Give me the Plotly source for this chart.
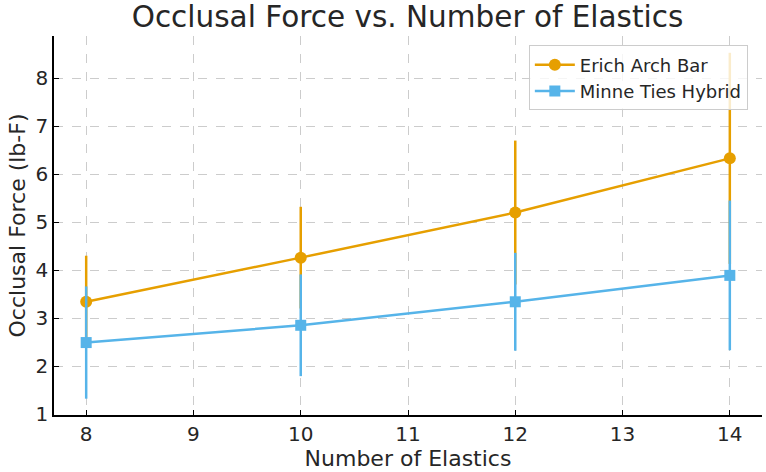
import plotly.graph_objects as go

elastics = [8, 10, 12, 14]
erich_mean = [3.34, 4.26, 5.2, 6.33]
erich_err = [0.96, 1.06, 1.5, 2.2]
minne_mean = [2.49, 2.85, 3.34, 3.89]
minne_err = [1.17, 1.06, 1.02, 1.56]

x_ticks = [8, 9, 10, 11, 12, 13, 14]
y_ticks = [1, 2, 3, 4, 5, 6, 7, 8]

ORANGE = "#E69F00"
BLUE = "#56B4E9"
FONT = "DejaVu Sans"
TXT = "#262626"

fig = go.Figure()
fig.add_trace(go.Scatter(
    x=elastics, y=erich_mean, name="Erich Arch Bar",
    mode="lines+markers",
    line=dict(color=ORANGE, width=2.5),
    marker=dict(symbol="circle", size=12, color=ORANGE),
    error_y=dict(type="data", array=erich_err, visible=True,
                 color=ORANGE, thickness=2.5, width=0),
))
fig.add_trace(go.Scatter(
    x=elastics, y=minne_mean, name="Minne Ties Hybrid",
    mode="lines+markers",
    line=dict(color=BLUE, width=2.5),
    marker=dict(symbol="square", size=11, color=BLUE),
    error_y=dict(type="data", array=minne_err, visible=True,
                 color=BLUE, thickness=2.5, width=0),
))

fig.update_layout(
    width=766, height=472,
    margin=dict(l=54, r=4, t=36, b=57),
    paper_bgcolor="white", plot_bgcolor="white",
    font=dict(family=FONT, color=TXT),
    title=dict(text="Occlusal Force vs. Number of Elastics",
               x=0.532, xanchor="center", y=0.964, yanchor="middle",
               font=dict(size=29.5, family=FONT, color=TXT)),
    showlegend=True,
    legend=dict(x=0.98, y=0.975, xanchor="right", yanchor="top",
                bgcolor="rgba(255,255,255,0.8)", bordercolor="#cccccc",
                borderwidth=1, font=dict(size=18, family=FONT, color=TXT),
                itemwidth=40, tracegroupgap=0),
)
fig.update_xaxes(
    range=[7.7, 14.3], tickvals=x_ticks,
    showgrid=True, gridcolor="#cccccc", griddash="dash", gridwidth=1,
    showline=True, linecolor="black", linewidth=1.5,
    ticks="inside", ticklen=5, tickcolor="black",
    tickfont=dict(size=20, family=FONT, color=TXT),
    title=dict(text="Number of Elastics", font=dict(size=22, family=FONT, color=TXT), standoff=2),
    zeroline=False, mirror=False,
)
fig.update_yaxes(
    range=[0.98, 8.88], tickvals=y_ticks,
    showgrid=True, gridcolor="#cccccc", griddash="dash", gridwidth=1,
    showline=True, linecolor="black", linewidth=1.5,
    ticks="inside", ticklen=5, tickcolor="black",
    tickfont=dict(size=20, family=FONT, color=TXT),
    title=dict(text="Occlusal Force (lb-F)", font=dict(size=22, family=FONT, color=TXT), standoff=4),
    zeroline=False, mirror=False,
)

fig.write_html("out.html")
